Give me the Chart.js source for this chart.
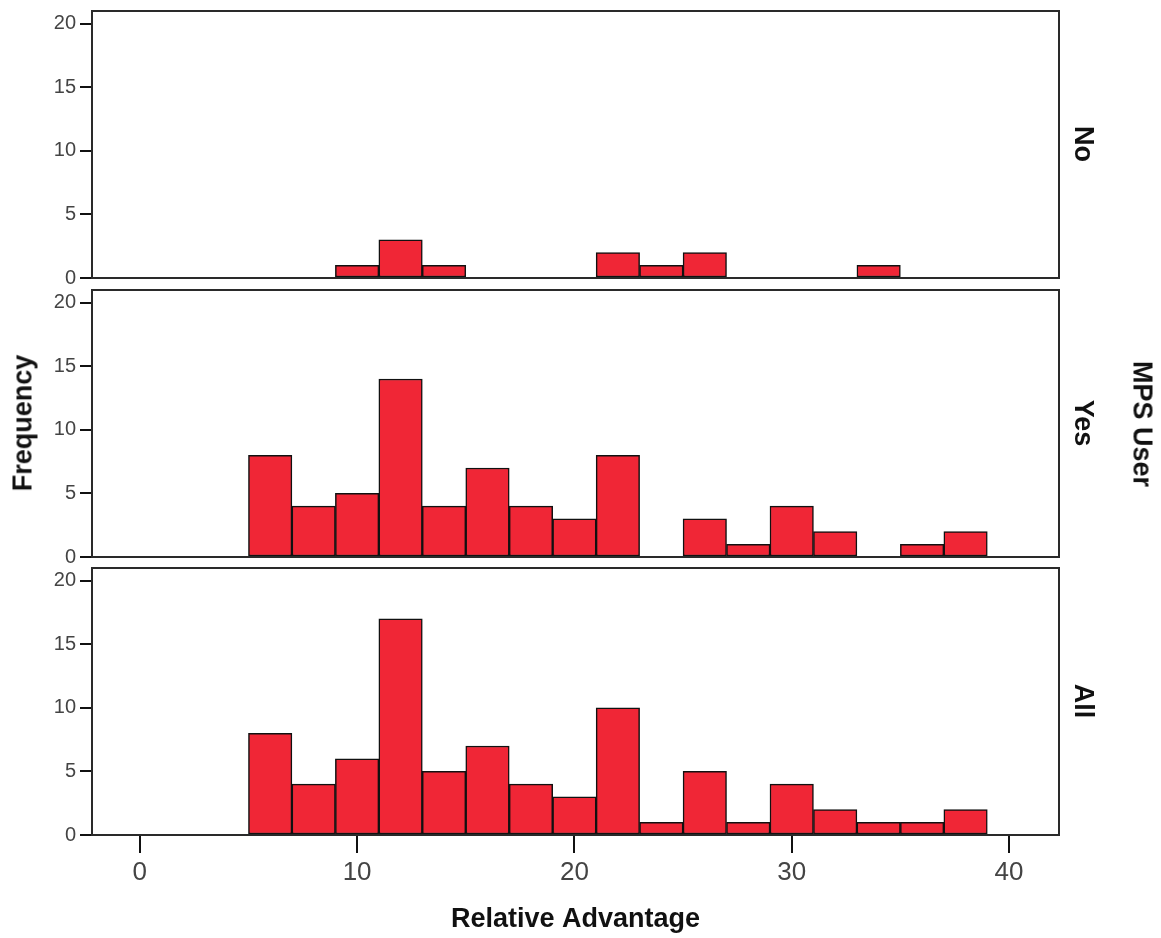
<!DOCTYPE html>
<html>
<head>
<meta charset="utf-8">
<script src="https://cdn.jsdelivr.net/npm/chart.js@4"></script>
<style>
  body { margin: 0; background: #fff; }
  #wrap { position: relative; width: 1161px; height: 938px; overflow: hidden; }
  canvas { position: absolute; left: 0; }
  .lbl {
    position: absolute;
    font-family: 'Liberation Sans', Arial, sans-serif;
    font-weight: bold;
    font-size: 27px;
    color: #111;
    white-space: nowrap;
    transform: translate(-50%, -50%) rotate(90deg);
  }
  .lbl.left { transform: translate(-50%, -50%) rotate(-90deg); }
</style>
</head>
<body>
<div id="wrap">
  <canvas id="cNo" width="1161" height="290" style="top:0px; width:1161px; height:290px"></canvas>
  <canvas id="cYes" width="1161" height="290" style="top:279px; width:1161px; height:290px"></canvas>
  <canvas id="cAll" width="1161" height="381" style="top:557px; width:1161px; height:381px"></canvas>
  <div class="lbl left" style="left:23px; top:423px">Frequency</div>
  <div class="lbl" style="left:1083px; top:144px">No</div>
  <div class="lbl" style="left:1083px; top:423px">Yes</div>
  <div class="lbl" style="left:1083px; top:701px">All</div>
  <div class="lbl" style="left:1142px; top:424px">MPS User</div>
</div>
<script>
// histogram bins of width 2 (centers), Relative Advantage
const binCenters = [6, 8, 10, 12, 14, 16, 18, 20, 22, 24, 26, 28, 30, 32, 34, 36, 38];

// frequencies per panel
const noCounts  = [0, 0, 1, 3, 1, 0, 0, 0, 2, 1, 2, 0, 0, 0, 1, 0, 0];
const yesCounts = [8, 4, 5, 14, 4, 7, 4, 3, 8, 0, 3, 1, 4, 2, 0, 1, 2];
const allCounts = [8, 4, 6, 17, 5, 7, 4, 3, 10, 1, 5, 1, 4, 2, 1, 1, 2];

const xTicks = [0, 10, 20, 30, 40];
const yTicks = [0, 5, 10, 15, 20];

const barColor = 'rgb(240, 38, 54)';
const fontFam = "'Liberation Sans', Arial, sans-serif";

// frame round the plot area
const framePlugin = {
  id: 'frame',
  afterDraw(chart) {
    const a = chart.chartArea;
    const c = chart.ctx;
    c.save();
    c.strokeStyle = '#2a2a2a';
    c.lineWidth = 2;
    c.strokeRect(a.left, a.top, a.right - a.left, a.bottom - a.top);
    c.restore();
  }
};

function makePanel(id, counts, showX) {
  const ctx = document.getElementById(id).getContext('2d');
  return new Chart(ctx, {
    type: 'bar',
    data: {
      datasets: [{
        data: binCenters.map((c, i) => ({ x: c, y: counts[i] })),
        backgroundColor: barColor,
        borderColor: '#111',
        borderWidth: 1.5,
        borderSkipped: false,
        barPercentage: 1,
        categoryPercentage: 1
      }]
    },
    plugins: [framePlugin],
    options: {
      responsive: false,
      maintainAspectRatio: false,
      animation: false,
      events: [],
      layout: { padding: { top: 11, bottom: showX ? 0 : 12, left: 0, right: 102 } },
      plugins: { legend: { display: false }, tooltip: { enabled: false } },
      scales: {
        x: {
          type: 'linear',
          display: showX,
          min: -2.2,
          max: 42.3,
          offset: false,
          afterBuildTicks: s => { s.ticks = xTicks.map(v => ({ value: v })); },
          grid: { offset: false, drawOnChartArea: false, tickLength: 18, color: '#111', lineWidth: 2 },
          border: { display: true, color: '#111', width: 2 },
          ticks: {
            padding: 4,
            color: '#444',
            font: { family: fontFam, size: 26 }
          },
          title: {
            display: showX,
            text: 'Relative Advantage',
            color: '#111',
            padding: { top: 0, bottom: 2 },
            font: { family: fontFam, size: 27, weight: 'bold' }
          },
          afterFit: s => {
            if (showX) s.height = 103;
            s.paddingLeft = 0;
            s.paddingRight = 0;
          }
        },
        y: {
          min: 0,
          max: 21,
          afterBuildTicks: s => { s.ticks = yTicks.map(v => ({ value: v })); },
          grid: { drawOnChartArea: false, tickLength: 12, color: '#111', lineWidth: 2 },
          border: { display: true, color: '#111', width: 2 },
          ticks: {
            padding: 4,
            color: '#444',
            font: { family: fontFam, size: 20 }
          },
          afterFit: s => { s.width = 92; s.paddingTop = 0; s.paddingBottom = 0; }
        }
      }
    }
  });
}

makePanel('cNo', noCounts, false);
makePanel('cYes', yesCounts, false);
makePanel('cAll', allCounts, true);
</script>
</body>
</html>
